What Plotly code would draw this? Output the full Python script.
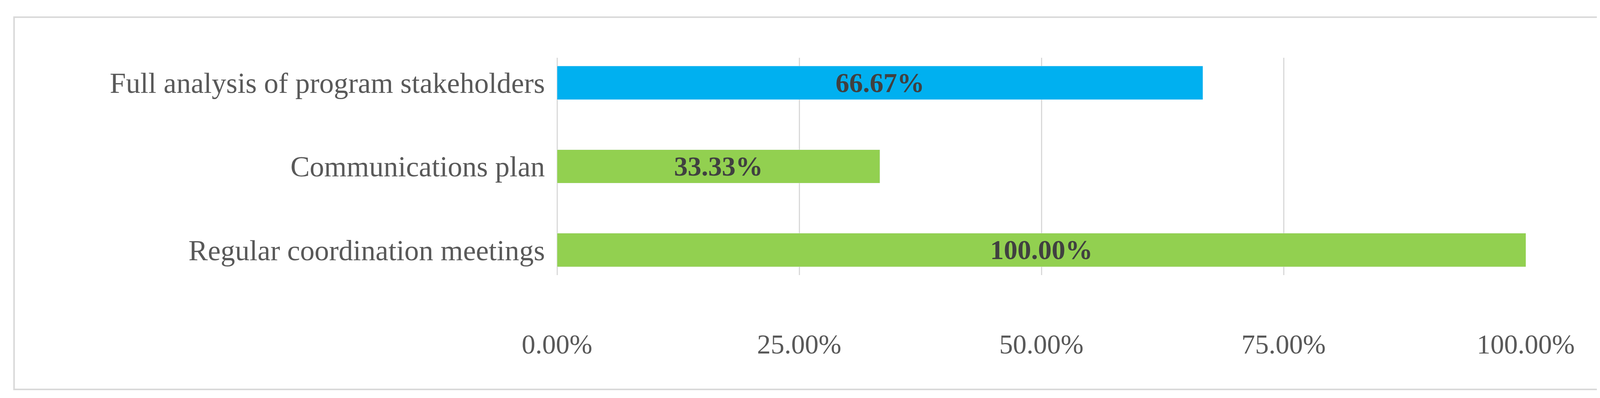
import plotly.graph_objects as go

categories = ["Regular coordination meetings", "Communications plan", "Full analysis of program stakeholders"]
series_names = ["1", "2", "3", "4", "5"]
series_values = [
    [0, 0, 0],
    [0, 0, 0],
    [0, 0, 0],
    [100.0, 33.33, 0],
    [0, 0, 66.67],
]
colors = ["#FF0000", "#FFC000", "#FFFF00", "#92D050", "#00B0F0"]
tick_vals = [0, 25, 50, 75, 100]
tick_text = ["0.00%", "25.00%", "50.00%", "75.00%", "100.00%"]

font = "Liberation Serif"
fig = go.Figure()
for name, vals, c in zip(series_names, series_values, colors):
    fig.add_trace(go.Bar(
        y=categories, x=vals, name=name, orientation="h", marker_color=c,
        width=0.4, legendgroup=name,
        text=[f"<b>{v:.2f}%</b>" if v > 0 else "" for v in vals],
        textposition="inside", insidetextanchor="middle",
        textfont=dict(family=font, size=70, color="#404040"),
    ))

fig.update_layout(
    barmode="stack", width=4384, height=1020,
    paper_bgcolor="white", plot_bgcolor="white",
    margin=dict(l=1418, r=486, t=140, b=323, autoexpand=False),
    font=dict(family=font, size=70, color="#595959"),
    xaxis=dict(range=[0, 100], tickvals=tick_vals, ticktext=tick_text,
               showgrid=True, gridcolor="#D9D9D9", gridwidth=3,
               zeroline=True, zerolinecolor="#D9D9D9", zerolinewidth=3,
               ticklabelstandoff=130, tickfont=dict(size=70, color="#595959")),
    yaxis=dict(tickfont=dict(size=74, color="#595959"), ticklabelstandoff=30,
               range=[-0.3, 2.3]),
    legend=dict(xref="container", yref="container", x=0.942, xanchor="left",
                y=0.86, yanchor="top",
                traceorder="grouped", tracegroupgap=80,
                font=dict(size=70, color="#595959"), itemwidth=30),
    shapes=[dict(type="rect", xref="paper", yref="paper",
                 x0=-0.5605, x1=1.1847, y0=-0.526, y1=1.1867,
                 line=dict(color="#D9D9D9", width=4))],
)
fig.write_html("out.html")
